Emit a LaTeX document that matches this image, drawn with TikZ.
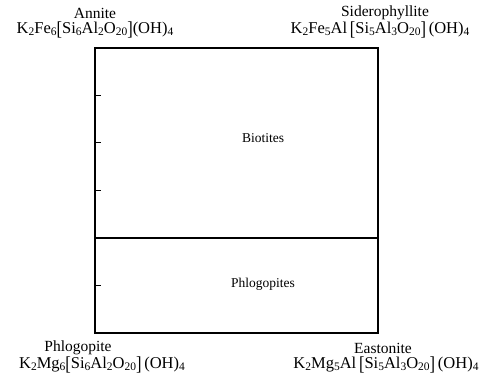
\documentclass[tikz,border=0pt]{standalone}
\usepackage{fontspec}
\usepackage{graphicx}
\setmainfont{Liberation Serif}
\newcommand{\subx}[1]{\raisebox{-0.3ex}{\fontsize{11.5}{12}\selectfont #1}}
\newcommand{\lbr}{\raisebox{-0.3ex}{\scalebox{1}[1.2]{[}}}
\newcommand{\rbr}{\raisebox{-0.3ex}{\scalebox{1}[1.2]{]}}}
\begin{document}
\begin{tikzpicture}[x=1pt,y=-1pt,
  lbl/.style={inner sep=0pt,font=\fontsize{15.5}{17}\selectfont},
  frm/.style={inner sep=0pt,font=\fontsize{16.5}{18}\selectfont},
  field/.style={inner sep=0pt,font=\fontsize{13.5}{15}\selectfont},
  frame/.style={line width=1.1pt},
  tick/.style={line width=1pt}]
\useasboundingbox (0,0) rectangle (496,374);
\coordinate (tl) at (95,48);
\coordinate (br) at (378,333);
\draw[frame] (tl) rectangle (br);
\coordinate (dl) at (95,238);
\coordinate (dr) at (378,238);
\draw[frame] (dl) -- (dr);
\foreach \y/\n in {95.5/a,143/b,190.5/c,285.5/d}{
  \coordinate (t\n) at (95,\y);
  \draw[tick] (t\n) -- ++(6,0);
}
\node[lbl] (ann) at (95,13) {Annite};
\node[frm] (annf) at (95,30) {K\subx{2}Fe\subx{6}\lbr Si\subx{6}Al\subx{2}O\subx{20}\rbr(OH)\subx{4}};
\node[lbl] (sid) at (385,13) {Siderophyllite};
\node[frm] (sidf) at (380,30) {K\subx{2}Fe\subx{5}Al\,\lbr Si\subx{5}Al\subx{3}O\subx{20}\rbr\,(OH)\subx{4}};
\node[lbl] (phl) at (78,348) {Phlogopite};
\node[frm] (phlf) at (102,365) {K\subx{2}Mg\subx{6}\lbr Si\subx{6}Al\subx{2}O\subx{20}\rbr\,(OH)\subx{4}};
\node[lbl] (eas) at (383,348) {Eastonite};
\node[frm] (easf) at (386,365) {K\subx{2}Mg\subx{5}Al\,\lbr Si\subx{5}Al\subx{3}O\subx{20}\rbr\,(OH)\subx{4}};
\node[field] (bio) at (263,138) {Biotites};
\node[field] (phs) at (263,284) {Phlogopites};
\end{tikzpicture}
\end{document}
